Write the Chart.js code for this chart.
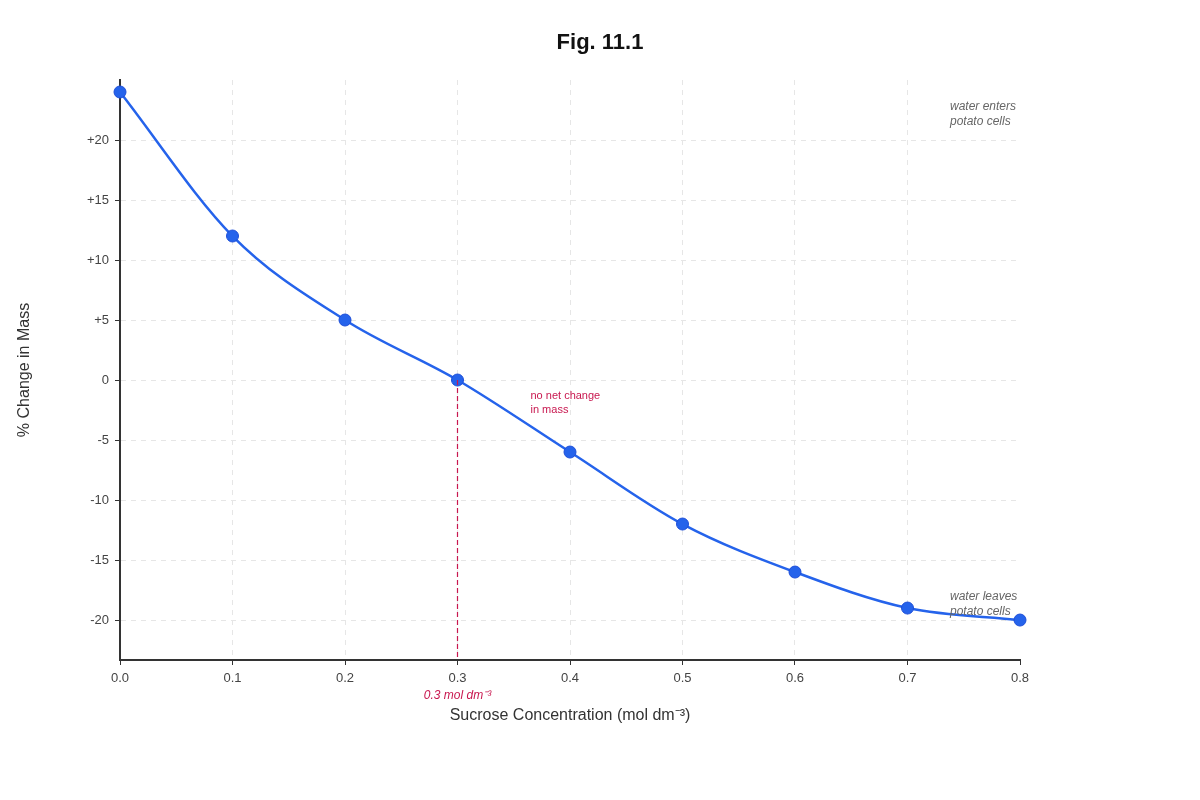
<!DOCTYPE html>
<html>
<head>
<meta charset="utf-8">
<script src="https://cdn.jsdelivr.net/npm/chart.js@4.4.1/dist/chart.umd.min.js"></script>
<style>
  html, body { margin: 0; padding: 0; background: #fff; }
  #wrap { width: 1200px; height: 800px; }
</style>
</head>
<body>
<div id="wrap"><canvas id="fig" width="1200" height="800"></canvas></div>
<script>
// values
const concentrations = [0.0, 0.1, 0.2, 0.3, 0.4, 0.5, 0.6, 0.7, 0.8];
const massChange = [24, 12, 5, 0, -6, -12, -16, -19, -20];
const yTicks = [-20, -15, -10, -5, 0, 5, 10, 15, 20];
const xTicks = [0, 0.1, 0.2, 0.3, 0.4, 0.5, 0.6, 0.7, 0.8];
const equilibriumConc = 0.3;

const RED = '#c8174f';
const FONT = '"Liberation Sans", Arial, sans-serif';

// labels and the dashed equilibrium marker
const notesPlugin = {
    id: 'notes',
    afterDatasetsDraw(chart) {
        const { ctx, chartArea, scales } = chart;
        const x = scales.x, y = scales.y;
        ctx.save();

        // dashed line from the zero crossing down to the axis
        const px = x.getPixelForValue(equilibriumConc);
        ctx.strokeStyle = RED;
        ctx.lineWidth = 1.2;
        ctx.setLineDash([5, 3]);
        ctx.beginPath();
        ctx.moveTo(px, y.getPixelForValue(0));
        ctx.lineTo(px, chartArea.bottom);
        ctx.stroke();
        ctx.setLineDash([]);

        ctx.fillStyle = RED;
        ctx.textBaseline = 'middle';
        ctx.font = '11px ' + FONT;
        ctx.textAlign = 'left';
        ctx.fillText('no net change', px + 73, y.getPixelForValue(0) + 16);
        ctx.fillText('in mass', px + 73, y.getPixelForValue(0) + 30);

        ctx.font = 'italic 12px ' + FONT;
        ctx.textAlign = 'center';
        ctx.fillText('0.3 mol dm\u207B\u00B3', px, chartArea.bottom + 36);

        ctx.fillStyle = '#666';
        ctx.textAlign = 'left';
        const nx = chartArea.right - 70;
        ctx.fillText('water enters', nx, chartArea.top + 27);
        ctx.fillText('potato cells', nx, chartArea.top + 42);
        ctx.fillText('water leaves', nx, chartArea.bottom - 63);
        ctx.fillText('potato cells', nx, chartArea.bottom - 48);
        ctx.restore();
    }
};

const fmtY = v => (v > 0 ? '+' + v : String(v));

const gridOpts = {
    color: '#e6e6e6',
    tickLength: 5,
    tickColor: '#333',
    tickBorderDash: []
};

new Chart(document.getElementById('fig'), {
    type: 'scatter',
    data: {
        datasets: [{
            data: concentrations.map((c, i) => ({ x: c, y: massChange[i] })),
            showLine: true,
            borderColor: '#2563eb',
            borderWidth: 2.5,
            cubicInterpolationMode: 'monotone',
            pointRadius: 6,
            pointBackgroundColor: '#2563eb',
            pointBorderColor: '#1d4ed8',
            pointBorderWidth: 1,
            clip: false
        }]
    },
    options: {
        responsive: false,
        animation: false,
        layout: { padding: 0 },
        plugins: {
            legend: { display: false },
            tooltip: { enabled: false },
            title: {
                display: true,
                text: 'Fig. 11.1',
                color: '#111',
                font: { family: FONT, size: 22, weight: 'bold' },
                padding: { top: 29.8, bottom: 23.8 }
            }
        },
        scales: {
            x: {
                type: 'linear',
                min: 0,
                max: 0.8,
                afterBuildTicks: s => { s.ticks = xTicks.map(v => ({ value: v })); },
                afterFit: s => { s.height = 140; s.paddingLeft = 0; s.paddingRight = 0; },
                border: { display: true, color: '#333', width: 2, dash: [5, 5] },
                grid: Object.assign({}, gridOpts, {
                    color: ctx => (ctx.tick && (ctx.tick.value === 0 || ctx.tick.value === 0.8)) ? 'rgba(0,0,0,0)' : '#e6e6e6'
                }),
                ticks: {
                    color: '#444',
                    padding: 6,
                    font: { family: FONT, size: 13 },
                    callback: v => Number(v).toFixed(1)
                },
                title: {
                    display: true,
                    text: 'Sucrose Concentration (mol dm\u207B\u00B3)',
                    color: '#333',
                    font: { family: FONT, size: 16 },
                    padding: { top: 0, bottom: 74.4 }
                }
            },
            y: {
                type: 'linear',
                min: -23.33,
                max: 25,
                afterBuildTicks: s => { s.ticks = yTicks.map(v => ({ value: v })); },
                afterFit: s => { s.width = 120; s.paddingTop = 0; s.paddingBottom = 0; },
                border: { display: true, color: '#333', width: 2, dash: [5, 5] },
                grid: gridOpts,
                ticks: {
                    color: '#444',
                    padding: 6,
                    font: { family: FONT, size: 13 },
                    callback: v => fmtY(v)
                },
                title: {
                    display: true,
                    text: '% Change in Mass',
                    color: '#333',
                    font: { family: FONT, size: 16 },
                    padding: { top: 15.4, bottom: 0 }
                }
            },
            // empty right-hand box that reserves the blank margin
            spacer: {
                type: 'linear',
                position: 'right',
                display: true,
                afterFit: s => { s.width = 180; s.paddingTop = 0; s.paddingBottom = 0; },
                border: { display: false },
                grid: { display: false, drawTicks: false },
                ticks: { display: false }
            }
        }
    },
    plugins: [notesPlugin]
});
</script>
</body>
</html>
